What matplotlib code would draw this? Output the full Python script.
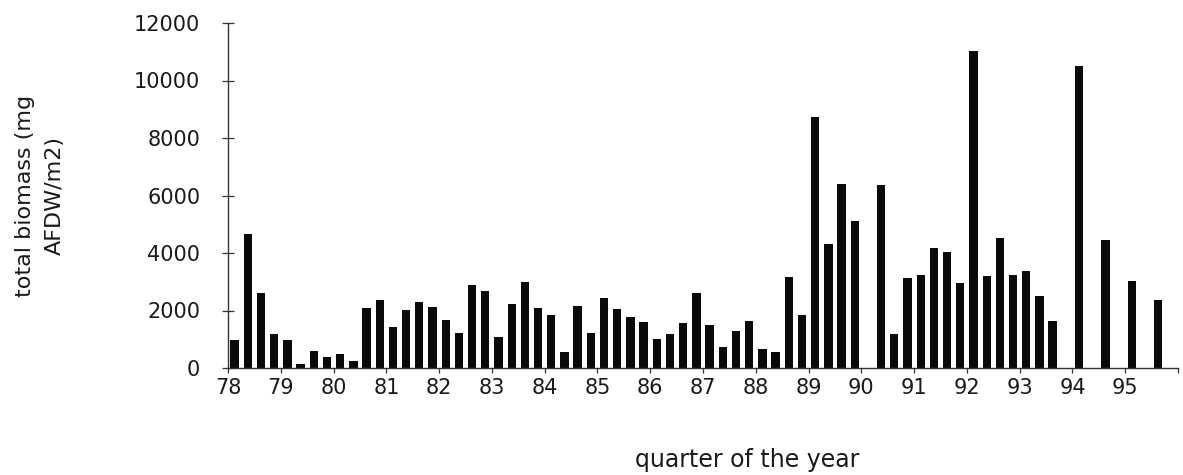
import numpy as np
import matplotlib
matplotlib.use("Agg")
import matplotlib.pyplot as plt

# Quarterly data, 1978 Q1 .. 1995 Q4 (None = no sample)
years = list(range(78, 96))
year_labels = [str(y) for y in years]
biomass = [
    970, 4650, 2620, 1190,      # 78
    960, 140, 580, 370,         # 79
    500, 230, 2070, 2370,       # 80
    1440, 2010, 2310, 2130,     # 81
    1680, 1230, 2880, 2690,     # 82
    1080, 2230, 3000, 2080,     # 83
    1850, 540, 2140, 1230,      # 84
    2420, 2050, 1780, 1610,     # 85
    1020, 1190, 1570, 2610,     # 86
    1480, 740, 1270, 1620,      # 87
    670, 570, 3180, 1860,       # 88
    8730, 4300, 6400, 5110,     # 89
    None, 6380, 1170, 3130,     # 90
    3220, 4190, 4040, 2940,     # 91
    11030, 3190, 4510, 3240,    # 92
    3360, 2500, 1620, None,     # 93
    10490, None, 4460, None,    # 94
    3010, None, 2360, None,     # 95
]

vals = np.array([np.nan if v is None else v for v in biomass], dtype=float)
xpos = years[0] + (np.arange(len(vals)) + 0.5) / 4.0

fig = plt.figure(figsize=(11.83, 4.75), dpi=100)
ax = fig.add_axes([228 / 1183, 107 / 475, 950 / 1183, 345 / 475])

ax.bar(xpos, np.nan_to_num(vals), width=0.158, color="#0a0a0a", edgecolor="none")

ax.set_xlim(years[0], years[-1] + 1)
ax.set_ylim(0, 12000)

for s in ["top", "right"]:
    ax.spines[s].set_visible(False)
for s in ["left", "bottom"]:
    ax.spines[s].set_color("#333333")
    ax.spines[s].set_linewidth(1.0)

ax.set_yticks(np.arange(0, 12001, 2000))
ax.set_yticklabels([str(v) for v in range(0, 12001, 2000)])
ax.tick_params(axis="y", direction="inout", length=8, width=0.9, color="#333333",
               pad=16, labelsize=15, labelcolor="#1a1a1a")

ax.set_xticks(years + [years[-1] + 1])
ax.set_xticklabels(year_labels + [""])
ax.tick_params(axis="x", direction="out", length=3.5, width=0.9, color="#333333",
               pad=4, labelsize=15, labelcolor="#1a1a1a")

ax.set_ylabel("total biomass (mg\nAFDW/m2)", fontsize=16, color="#1a1a1a",
              linespacing=1.6, multialignment="center")
ax.yaxis.label.set_va("center")
ax.yaxis.set_label_coords(-0.198, 0.5)

ax.set_xlabel("quarter of the year", fontsize=17, color="#1a1a1a")
ax.xaxis.label.set_va("center")
ax.xaxis.set_label_coords(0.547, -0.267)

fig.savefig("out.png", dpi=100)
